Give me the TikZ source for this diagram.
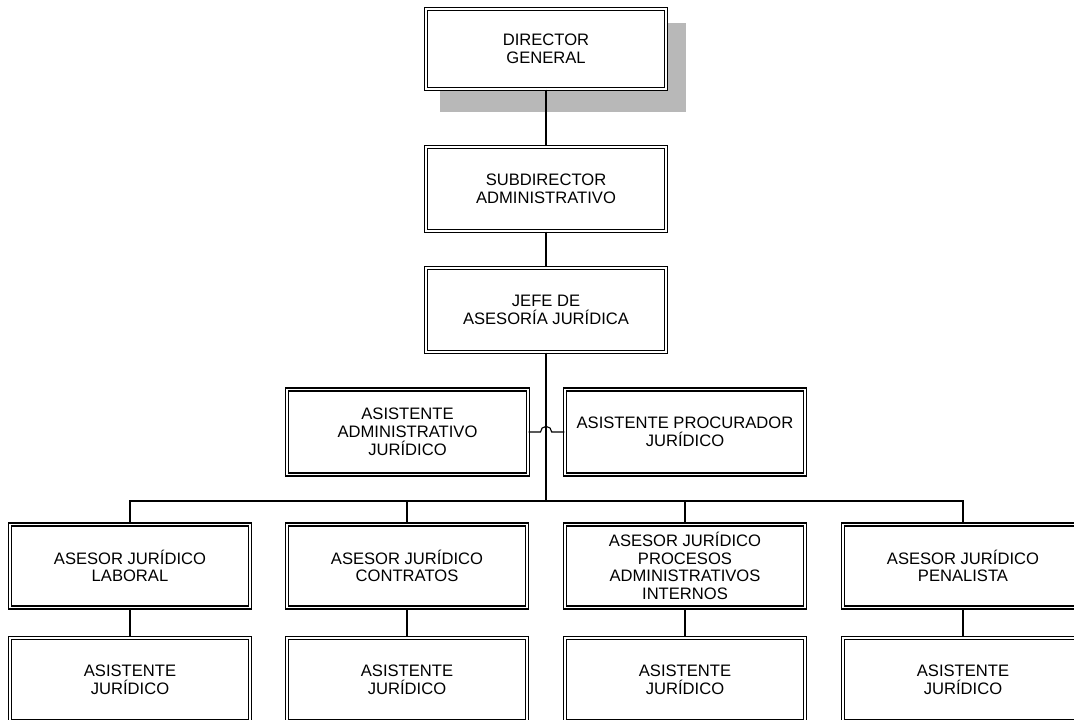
\documentclass[tikz,border=0pt]{standalone}
\usepackage{fontspec}
\setmainfont{Liberation Sans}
\begin{document}
\begin{tikzpicture}[x=0.025cm, y=0.025cm,
    box/.style={draw, double, line width=0.8pt, double distance=1.4pt, fill=white,
      align=center, inner sep=2pt, minimum width=6cm, minimum height=2.075cm,
      font=\fontsize{11.8}{12.6}\selectfont},
    link/.style={line width=0.8pt}]
    \clip (0,0) rectangle (1074,719);
    \fill[white] (0,0) rectangle (1074,719);
    \fill[black!28] (440,607) rectangle (686,696);
    \node[box, minimum height=2cm] (dir) at (546,670) {DIRECTOR\\GENERAL};
    \node[box, minimum height=2.1cm] (sub) at (546,530) {SUBDIRECTOR\\ADMINISTRATIVO};
    \node[box, minimum height=2.1cm] (jefe) at (546,409) {JEFE DE\\ASESORÍA JURÍDICA};
    \node[box, minimum width=6.025cm, minimum height=2.125cm] (asad) at (407.5,287) {ASISTENTE\\ADMINISTRATIVO\\JURÍDICO};
    \node[box, minimum height=2.125cm] (aspr) at (685,287) {ASISTENTE PROCURADOR\\JURÍDICO};
    \node[box] (a1) at (130,153) {ASESOR JURÍDICO\\LABORAL};
    \node[box] (a2) at (407,153) {ASESOR JURÍDICO\\CONTRATOS};
    \node[box] (a3) at (685,153) {ASESOR JURÍDICO\\PROCESOS\\ADMINISTRATIVOS\\INTERNOS};
    \node[box] (a4) at (963,153) {ASESOR JURÍDICO\\PENALISTA};
    \node[box] (s1) at (130,39.5) {ASISTENTE\\JURÍDICO};
    \node[box] (s2) at (407,39.5) {ASISTENTE\\JURÍDICO};
    \node[box] (s3) at (685,39.5) {ASISTENTE\\JURÍDICO};
    \node[box] (s4) at (963,39.5) {ASISTENTE\\JURÍDICO};
    \coordinate (bus) at (546,218);
    \coordinate (hop) at (540.5,287);
    \draw[link] (dir) -- (sub);
    \draw[link] (sub) -- (jefe);
    \draw[link] (jefe) -- (bus);
    \draw[link] (asad.east) -- (hop) arc[start angle=180, end angle=0, radius=0.14cm] -- (aspr.west);
    \draw[link] (a1.north) |- (bus) -| (a4.north);
    \draw[link] (a2.north) -- (a2.north |- bus);
    \draw[link] (a3.north) -- (a3.north |- bus);
    \draw[link] (a1) -- (s1);
    \draw[link] (a2) -- (s2);
    \draw[link] (a3) -- (s3);
    \draw[link] (a4) -- (s4);
\end{tikzpicture}
\end{document}
